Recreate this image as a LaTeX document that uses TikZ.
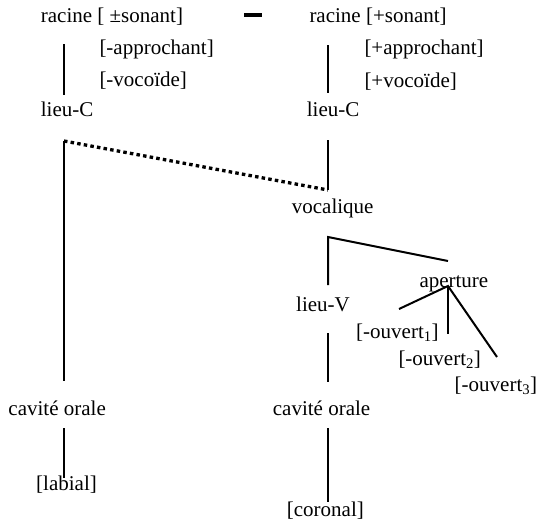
\documentclass[tikz,border=0pt]{standalone}
\usepackage{fontspec}
\setmainfont{Liberation Serif}

\tikzset{
  trait/.style={anchor=base west, inner sep=0pt, font=\fontsize{21}{25}\selectfont},
  branche/.style={line width=2pt},
  lien/.style={line width=3.3pt, dash pattern=on 3.5pt off 3.2pt},
}

\begin{document}
\begin{tikzpicture}[x=1pt, y=-1pt]
	\useasboundingbox (0,0) rectangle (538,522);
	% les traits
	\foreach \n/\x/\y/\t in {racineG/40.7/23/{racine [ ±sonant]}, approG/99.3/54.5/{[-approchant]},
		vocoG/99.3/86.5/{[-vocoïde]}, lieuCG/40.7/116.5/{lieu-C},
		racineD/309.3/23/{racine [+sonant]}, approD/364.3/54/{[+approchant]},
		vocoD/364.3/87/{[+vocoïde]}, lieuCD/306.7/116/{lieu-C},
		vocal/291.7/213.3/{vocalique}, apert/419.3/287.3/{aperture}, lieuV/296/311.7/{lieu-V},
		ouvUn/356/338.3/{[-ouvert\textsubscript{1}]}, ouvDeux/398.3/365/{[-ouvert\textsubscript{2}]},
		ouvTrois/454.5/391/{[-ouvert\textsubscript{3}]},
		caviteG/8.3/415/{cavité orale}, caviteD/272.7/415/{cavité orale},
		labial/36/490/{[labial]}, coronal/286.7/516.5/{[coronal]}} {
		\node[trait] (\n) at (\x,\y) {\t};
	}
	\node[fill=black, inner sep=0pt, minimum width=18pt, minimum height=4pt] (tiret) at (252.5,14.5) {};
	% points des branches
	\coordinate (g1) at (64,44);   \coordinate (g2) at (64,95);
	\coordinate (g3) at (64,141);  \coordinate (g4) at (64,381);
	\coordinate (g5) at (64,428);  \coordinate (g6) at (64,478);
	\coordinate (d1) at (328,45);  \coordinate (d2) at (328,93);
	\coordinate (d3) at (328,140); \coordinate (d4) at (328,190);
	\coordinate (v0) at (328,237); \coordinate (v1) at (328,285); \coordinate (v2) at (448,261);
	\coordinate (a0) at (448,286); \coordinate (a1) at (399,309);
	\coordinate (a2) at (448,334); \coordinate (a3) at (497,357);
	\coordinate (d5) at (328,333); \coordinate (d6) at (328,382);
	\coordinate (d7) at (328,428); \coordinate (d8) at (328,502);
	\draw[branche] (g1) -- (g2);
	\draw[branche] (g3) -- (g4);
	\draw[branche] (g5) -- (g6);
	\draw[branche] (d1) -- (d2);
	\draw[branche] (d3) -- (d4);
	\draw[branche] (v1) -- (v0) -- (v2);
	\draw[branche] (a1) -- (a0) -- (a3);
	\draw[branche] (a0) -- (a2);
	\draw[branche] (d5) -- (d6);
	\draw[branche] (d7) -- (d8);
	\draw[lien] (g3) -- (d4);
\end{tikzpicture}
\end{document}
